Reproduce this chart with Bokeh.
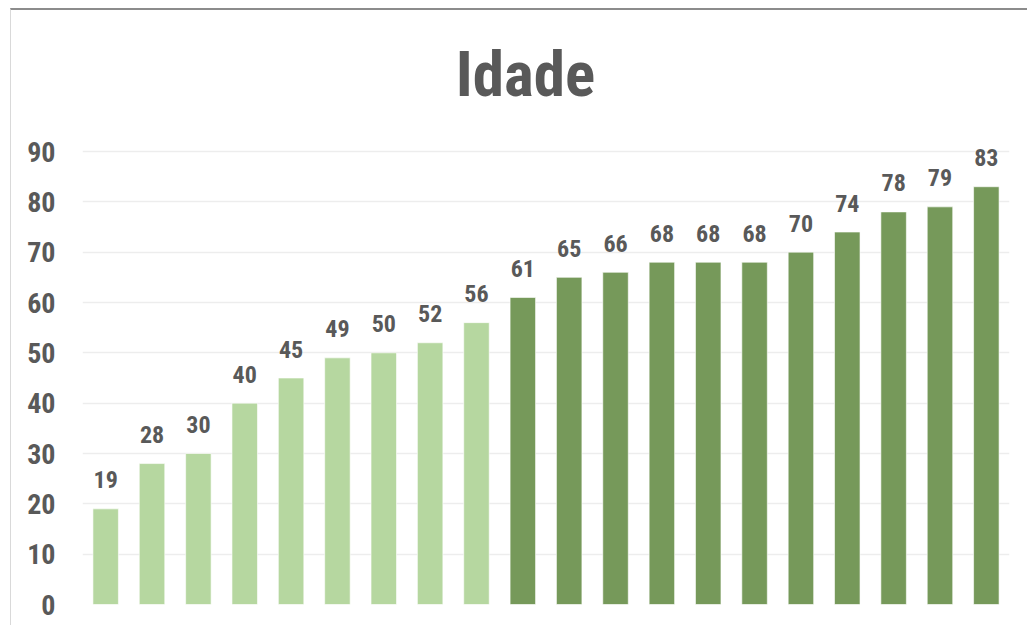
from bokeh.plotting import figure
from bokeh.models import ColumnDataSource, Range1d, FixedTicker, Label
from bokeh.core.properties import value
from bokeh.embed import file_html
from bokeh.resources import INLINE

# ---- data ----
ages = [19, 28, 30, 40, 45, 49, 50, 52, 56, 61, 65, 66, 68, 68, 68, 70, 74, 78, 79, 83]
groups = ["young"] * 9 + ["old"] * 11
y_ticks = [0, 10, 20, 30, 40, 50, 60, 70, 80, 90]
title_text = "Idade"

colors_map = {"young": "#b6d7a0", "old": "#76995a"}
FONT = "'Roboto Condensed', 'Liberation Sans Narrow', 'DejaVu Sans Condensed', Roboto, sans-serif"
TXT = "#595959"

xs = list(range(len(ages)))
src = ColumnDataSource(dict(
    x=xs,
    y=ages,
    label=[str(a) for a in ages],
    color=[colors_map[g] for g in groups],
))

W, H = 1017, 617
mb_top, mb_bottom, mb_left, mb_right = 5, 23, 71, 19
frame_h = H - mb_top - mb_bottom
frame_w = W - mb_left - mb_right
# 90 gridline at y=151 px, 0 at y=604 in the reference
y_end = 90 * frame_h / (604 - 151)
px_per_unit = (604 - 151) / 90.0
px_per_cat = frame_w / len(ages)

p = figure(width=W, height=H, output_backend="svg", toolbar_location=None,
           x_range=Range1d(-0.5, len(ages) - 0.5), y_range=Range1d(0, y_end),
           min_border_top=mb_top, min_border_bottom=mb_bottom,
           min_border_left=mb_left, min_border_right=mb_right)
p.styles = {"margin-left": "10px", "margin-top": "8px",
            "border-top": "2px solid #8c8c8c", "border-left": "1px solid #d9d9d9"}

p.vbar(x="x", top="y", width=0.55, source=src, fill_color="color",
       line_color="white", line_alpha=0.6, line_width=1)

p.text(x="x", y="y", text="label", source=src, text_align="center",
       text_baseline="alphabetic", y_offset=-29,
       text_font=value(FONT), text_font_style="bold",
       text_font_size="24px", text_color=TXT)

p.xaxis.visible = False
p.xgrid.grid_line_color = None
p.ygrid.grid_line_color = "#ededed"
p.ygrid.grid_line_width = 1.5
p.yaxis.ticker = FixedTicker(ticks=y_ticks)
p.ygrid.ticker = FixedTicker(ticks=y_ticks)
p.yaxis.axis_line_color = None
p.yaxis.major_tick_line_color = None
p.yaxis.minor_tick_line_color = None
p.yaxis.major_label_standoff = 21
p.yaxis.major_label_text_font = FONT
p.yaxis.major_label_text_font_style = "bold"
p.yaxis.major_label_text_font_size = "28px"
p.yaxis.major_label_text_color = TXT
p.outline_line_color = None

# title centred at page x~525, top near page y~50
title_x = -0.5 + (525 - 82) / px_per_cat
title_y = (604 - 74) / px_per_unit
p.add_layout(Label(x=title_x, y=title_y, text=title_text, text_align="center",
                   text_baseline="alphabetic", text_font=FONT, text_font_style="bold",
                   text_font_size="63px", text_color=TXT))

open("out.html", "w").write(file_html(p, INLINE))
